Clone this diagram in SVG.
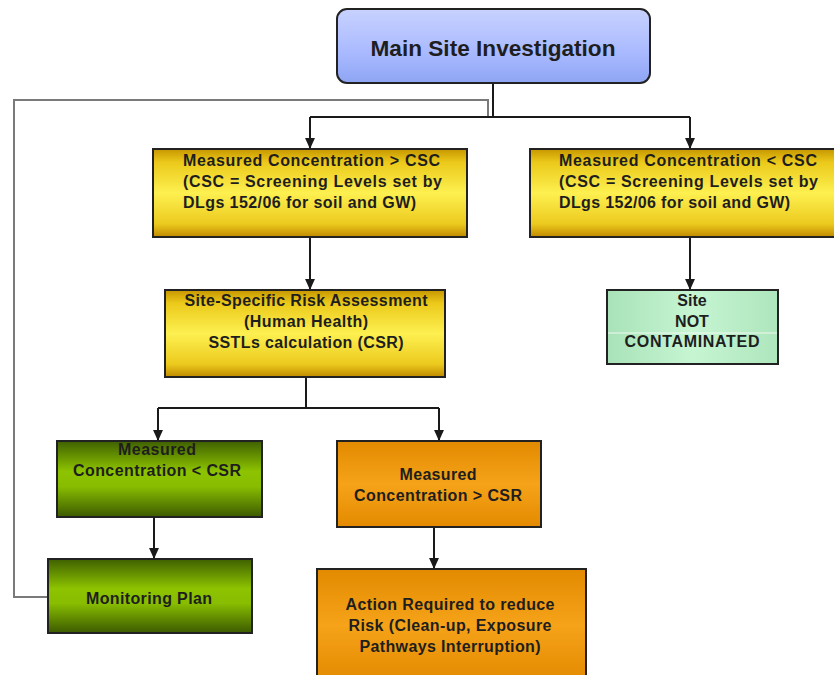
<svg xmlns="http://www.w3.org/2000/svg" width="834" height="675" viewBox="0 0 834 675">
  <style>
    .box { stroke: #222; stroke-width: 2; }
    .t { font-family: "Liberation Sans", Arial, sans-serif; font-weight: bold; fill: #1e1e1e; font-size: 16px; }
    .big { font-size: 22px; }
    .c { text-anchor: middle; }
    .ln { fill: none; stroke: #1a1a1a; stroke-width: 2; }
    .fb { fill: none; stroke: #7a7a7a; stroke-width: 2; }
  </style>
  <defs>
    <marker id="arr" markerUnits="userSpaceOnUse" markerWidth="11" markerHeight="11" refX="10" refY="5" orient="auto" viewBox="0 0 10 10">
      <path d="M0,0.5 L10,5 L0,9.5 z" fill="#1a1a1a"/>
    </marker>
    <linearGradient id="gBlue" x1="0" y1="0" x2="0" y2="1">
      <stop offset="0" stop-color="#c8d2ff"/>
      <stop offset="0.6" stop-color="#a9b9ff"/>
      <stop offset="1" stop-color="#8ea5f4"/>
    </linearGradient>
    <linearGradient id="gYel" x1="0" y1="0" x2="0" y2="1">
      <stop offset="0" stop-color="#c69600"/>
      <stop offset="0.15" stop-color="#ebc91a"/>
      <stop offset="0.5" stop-color="#fdf050"/>
      <stop offset="0.85" stop-color="#ecca1e"/>
      <stop offset="1" stop-color="#c08a00"/>
    </linearGradient>
    <linearGradient id="gGrn" x1="0" y1="0" x2="0" y2="1">
      <stop offset="0" stop-color="#3f6000"/>
      <stop offset="0.4" stop-color="#8dc300"/>
      <stop offset="0.6" stop-color="#88bd00"/>
      <stop offset="1" stop-color="#3c5a00"/>
    </linearGradient>
    <linearGradient id="gOrg" x1="0" y1="0" x2="0" y2="1">
      <stop offset="0" stop-color="#e28a00"/>
      <stop offset="0.5" stop-color="#f6a31a"/>
      <stop offset="1" stop-color="#e38a00"/>
    </linearGradient>
    <linearGradient id="gMint" x1="0" y1="0" x2="1" y2="0">
      <stop offset="0" stop-color="#a9e2b8"/>
      <stop offset="0.5" stop-color="#c6f5d2"/>
      <stop offset="1" stop-color="#aee6bd"/>
    </linearGradient>
  </defs>

  <rect width="834" height="675" fill="#ffffff"/>

  <g id="connectors">
    <path class="fb" d="M48,597 H14 V100 H488 V117"/>
    <path class="ln" d="M493,83 V117"/>
    <path class="ln" d="M310,117 H690"/>
    <path class="ln" d="M310,117 V149" marker-end="url(#arr)"/>
    <path class="ln" d="M690,117 V149" marker-end="url(#arr)"/>
    <path class="ln" d="M310,237 V290" marker-end="url(#arr)"/>
    <path class="ln" d="M690,237 V290" marker-end="url(#arr)"/>
    <path class="ln" d="M306,377 V408"/>
    <path class="ln" d="M158,408 H439"/>
    <path class="ln" d="M158,408 V441" marker-end="url(#arr)"/>
    <path class="ln" d="M439,408 V441" marker-end="url(#arr)"/>
    <path class="ln" d="M154,517 V559" marker-end="url(#arr)"/>
    <path class="ln" d="M434,527 V569" marker-end="url(#arr)"/>
  </g>

  <g id="main">
    <rect class="box" x="337" y="9" width="313" height="74" rx="10" fill="url(#gBlue)"/>
    <text class="t big c" x="493" y="56" textLength="245" lengthAdjust="spacingAndGlyphs">Main Site Investigation</text>
  </g>

  <g id="above-csc">
    <rect class="box" x="153" y="149" width="314" height="88" fill="url(#gYel)"/>
    <text class="t" x="183" y="166" textLength="257" lengthAdjust="spacing">Measured Concentration &gt; CSC</text>
    <text class="t" x="183" y="187" textLength="259" lengthAdjust="spacing">(CSC = Screening Levels set by</text>
    <text class="t" x="183" y="208" textLength="233" lengthAdjust="spacing">DLgs 152/06 for soil and GW)</text>
  </g>

  <g id="below-csc">
    <rect class="box" x="530" y="149" width="310" height="88" fill="url(#gYel)"/>
    <text class="t" x="559" y="166" textLength="258" lengthAdjust="spacing">Measured Concentration &lt; CSC</text>
    <text class="t" x="559" y="187" textLength="259" lengthAdjust="spacing">(CSC = Screening Levels set by</text>
    <text class="t" x="559" y="208" textLength="231" lengthAdjust="spacing">DLgs 152/06 for soil and GW)</text>
  </g>

  <g id="risk-assessment">
    <rect class="box" x="165" y="290" width="280" height="87" fill="url(#gYel)"/>
    <text class="t c" x="306" y="306" textLength="243" lengthAdjust="spacing">Site-Specific Risk Assessment</text>
    <text class="t c" x="306" y="327" textLength="124" lengthAdjust="spacing">(Human Health)</text>
    <text class="t c" x="306" y="348" textLength="195" lengthAdjust="spacing">SSTLs calculation (CSR)</text>
  </g>

  <g id="not-contaminated">
    <rect class="box" x="607" y="290" width="171" height="74" fill="url(#gMint)"/>
    <line x1="608" y1="333" x2="777" y2="333" stroke="#ffffff" stroke-width="1" opacity="0.8"/>
    <text class="t c" x="692" y="306">Site</text>
    <text class="t c" x="692" y="327">NOT</text>
    <text class="t c" x="692" y="347" textLength="135" lengthAdjust="spacing">CONTAMINATED</text>
  </g>

  <g id="below-csr">
    <rect class="box" x="57" y="441" width="205" height="76" fill="url(#gGrn)"/>
    <text class="t c" x="157" y="455" textLength="78" lengthAdjust="spacing">Measured</text>
    <text class="t c" x="157" y="476" textLength="168" lengthAdjust="spacing">Concentration &lt; CSR</text>
  </g>

  <g id="above-csr">
    <rect class="box" x="337" y="441" width="204" height="86" fill="url(#gOrg)"/>
    <text class="t c" x="438" y="480" textLength="77" lengthAdjust="spacing">Measured</text>
    <text class="t c" x="438" y="501" textLength="168" lengthAdjust="spacing">Concentration &gt; CSR</text>
  </g>

  <g id="monitoring-plan">
    <rect class="box" x="48" y="559" width="204" height="74" fill="url(#gGrn)"/>
    <text class="t c" x="149" y="604" textLength="126" lengthAdjust="spacing">Monitoring Plan</text>
  </g>

  <g id="action-required">
    <rect class="box" x="317" y="569" width="269" height="112" fill="url(#gOrg)"/>
    <text class="t c" x="450" y="610" textLength="209" lengthAdjust="spacing">Action Required to reduce</text>
    <text class="t c" x="450" y="631" textLength="203" lengthAdjust="spacing">Risk (Clean-up, Exposure</text>
    <text class="t c" x="450" y="652" textLength="181" lengthAdjust="spacing">Pathways Interruption)</text>
  </g>
</svg>
